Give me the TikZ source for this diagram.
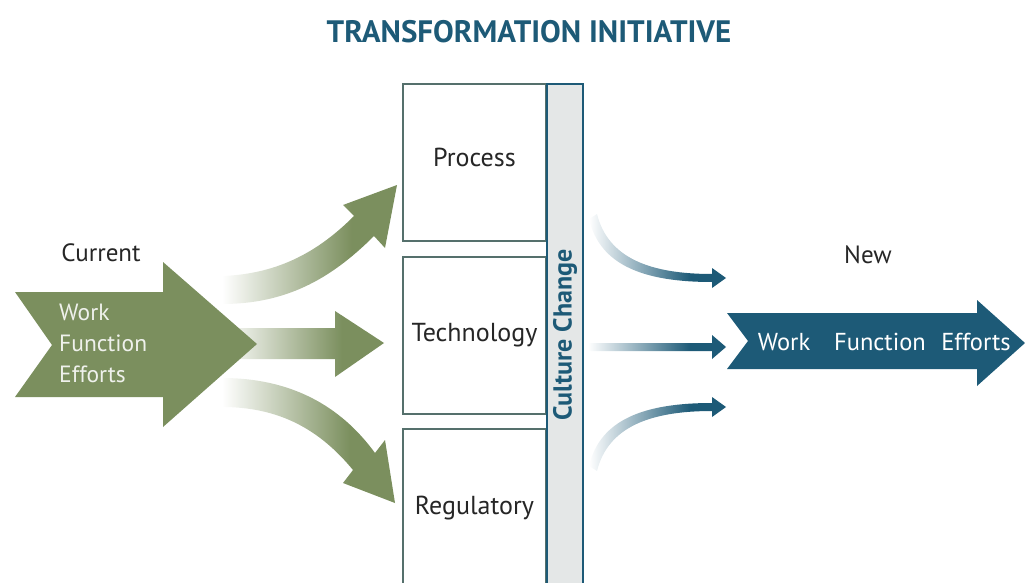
\documentclass[tikz,border=0pt]{standalone}
\usepackage{fontspec}
\setmainfont{PT Sans}
\usepackage{xcolor}
\usetikzlibrary{positioning}
\definecolor{armgreen}{HTML}{7B8F5E}
\definecolor{deepteal}{HTML}{1D5A77}
\definecolor{boxline}{HTML}{55706C}
\definecolor{stripfill}{HTML}{E4E7E7}
\colorlet{creamtext}{armgreen!12!white}
\pgfdeclarehorizontalshading{greenfade}{100bp}{color(0bp)=(white); color(25bp)=(white); color(62bp)=(armgreen); color(100bp)=(armgreen)}
\pgfdeclarehorizontalshading{tealfade}{100bp}{color(0bp)=(white); color(25bp)=(white); color(62bp)=(deepteal); color(100bp)=(deepteal)}
\tikzstyle{stagebox} = [
    draw=boxline,
    line width=2.5pt,
    fill=white,
    rectangle,
    minimum width=143pt,
    text=black!85,
    font=\fontsize{26}{30}\selectfont
    ]
\tikzstyle{plainlabel} = [
    text=black!85,
    font=\fontsize{25}{29}\selectfont
    ]
\tikzstyle{arrowlabel} = [
    inner sep=0pt,
    font=\fontsize{24.5}{28}\selectfont
    ]

\begin{document}
\begin{tikzpicture}[x=1pt,y=-1pt]
\useasboundingbox (0,0) rectangle (1025,583);

\node[text=deepteal, font=\bfseries\fontsize{31}{35}\selectfont] (title) at (529,32) {TRANSFORMATION INITIATIVE};

% current state
\shade[shading=greenfade] (222,276) .. controls (280,274) and (320,250) .. (354,216) -- (343,205) -- (397,185) -- (385,248) -- (374,236) .. controls (330,280) and (285,304) .. (222,304) -- cycle;
\shade[shading=greenfade] (222,328) -- (335,328) -- (335,311) -- (384,343) -- (335,377) -- (335,359) -- (222,359) -- cycle;
\shade[shading=greenfade] (222,378) .. controls (290,378) and (340,405) .. (375,453) -- (385,440) -- (395,503) -- (343,483) -- (353,470) .. controls (320,430) and (280,407) .. (222,407) -- cycle;

\fill[armgreen] (15,292) -- (163,292) -- (163,262) -- (257,344) -- (163,427) -- (163,397) -- (15,397) -- (52,345) -- cycle;
\node[plainlabel] (current) at (101,253) {Current};
\node[arrowlabel, text=creamtext, align=left, anchor=west, font=\fontsize{23.5}{31}\selectfont] (oldwork) at (59,343) {Work\\Function\\Efforts};

% the three parts and the culture strip
\node[stagebox, minimum height=157pt] (process) at (474.5,162.5) {};
\node[plainlabel, font=\fontsize{26}{30}\selectfont] at (474.5,157) {Process};
\node[stagebox, minimum height=157pt] (technology) at (474.5,335.5) {Technology};
\node[stagebox, minimum height=170pt] (regulatory) at (474.5,514) {};
\node[plainlabel, font=\fontsize{26}{30}\selectfont] at (474.5,508) {Regulatory};

\draw[draw=deepteal, fill=stripfill, line width=2.5pt] (547,84) rectangle (583,600);
\node[rotate=90, text=deepteal, font=\bfseries\fontsize{26}{30}\selectfont] (culture) at (565,335) {Culture Change};

% new state
\shade[shading=tealfade] (597,214) .. controls (608,258) and (650,274) .. (712,274) -- (712,268) -- (726,278) -- (712,288) -- (712,282) .. controls (645,282) and (600,266) .. (589,219) -- cycle;
\shade[shading=tealfade] (588,343) -- (712,343) -- (712,335) -- (726,347) -- (712,359) -- (712,351) -- (588,351) -- cycle;
\shade[shading=tealfade] (597,471) .. controls (608,427) and (650,411) .. (712,411) -- (712,417) -- (726,407) -- (712,397) -- (712,403) .. controls (645,403) and (600,419) .. (589,466) -- cycle;

\fill[deepteal] (727,313) -- (977,313) -- (977,300) -- (1025,343) -- (977,386) -- (977,369) -- (727,369) -- (748,341) -- cycle;
\node[plainlabel] (new) at (868,255) {New};
\node[arrowlabel, text=white] (newwork) at (784,342) {Work};
\node[arrowlabel, text=white] (newfunction) at (880,342) {Function};
\node[arrowlabel, text=white] (newefforts) at (976,342) {Efforts};
\end{tikzpicture}
\end{document}
